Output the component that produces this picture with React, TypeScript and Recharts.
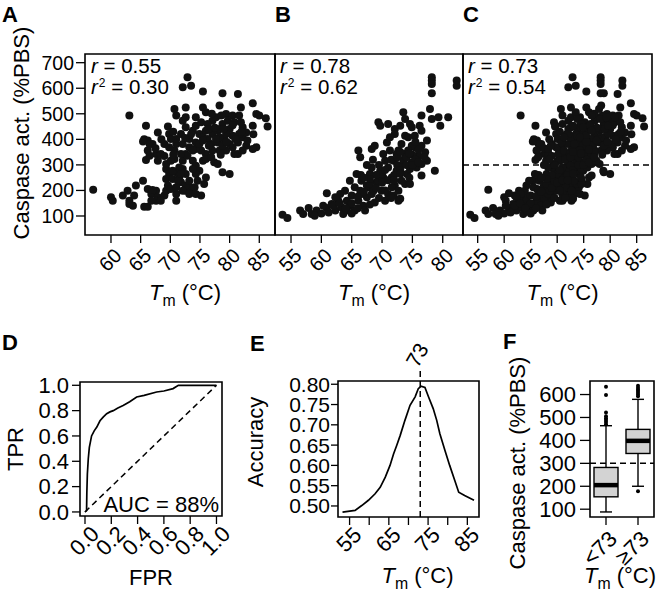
import React from 'react';
import { ScatterChart, Scatter, LineChart, Line, ComposedChart, Bar, XAxis, YAxis, ReferenceArea, ReferenceLine } from 'recharts';

const FONT = "'Liberation Sans', Arial, Helvetica, sans-serif";

// Panel A: Tm vs caspase activity (set 1)
const scatterA: [number, number][] = [
  [57.0, 203], [60.0, 173], [60.3, 160], [62.0, 180], [62.8, 199], [63.1, 147], [64.2, 219], [63.9, 180],
  [65.4, 238], [66.2, 206], [65.6, 136], [66.2, 136], [66.8, 186], [67.6, 199], [67.9, 173], [69.0, 180],
  [69.3, 199], [67.6, 160], [71.0, 160], [71.0, 186], [72.6, 199], [73.2, 212], [73.8, 193], [75.2, 180],
  [75.7, 225], [76.0, 251], [63.1, 493], [65.9, 453], [67.9, 427], [69.6, 450], [65.6, 400], [66.2, 395],
  [67.0, 382], [66.2, 356], [65.9, 319], [67.6, 343], [67.9, 316], [69.0, 382], [69.8, 421], [70.1, 401],
  [70.7, 356], [71.0, 382], [69.3, 284], [69.8, 264], [69.3, 245], [70.4, 245], [71.0, 271], [71.5, 251],
  [72.1, 284], [72.6, 264], [71.8, 232], [72.6, 219], [70.7, 323], [72.1, 316], [72.6, 343], [73.8, 316],
  [74.3, 297], [74.9, 277], [74.6, 238], [73.2, 238], [74.1, 212], [72.1, 473], [72.6, 486], [71.0, 493],
  [72.6, 525], [70.7, 519], [72.9, 643], [72.1, 604], [73.5, 610], [75.5, 587], [78.8, 580], [81.4, 577],
  [75.5, 525], [78.3, 532], [81.9, 525], [83.9, 541], [84.5, 499], [85.0, 493], [86.1, 483], [86.4, 450],
  [84.5, 369], [83.9, 362], [76.0, 506], [74.3, 486], [77.1, 473], [79.4, 499], [80.5, 493], [81.6, 493],
  [78.8, 460], [80.0, 440], [82.2, 447], [83.9, 453], [73.8, 434], [74.9, 421], [76.0, 434], [77.1, 421],
  [78.0, 434], [73.2, 401], [74.3, 388], [75.5, 408], [76.9, 382], [78.0, 388], [79.1, 401], [80.5, 414],
  [81.4, 388], [82.2, 408], [82.8, 375], [80.5, 369], [79.4, 356], [81.4, 343], [78.3, 356], [77.1, 356],
  [76.0, 343], [75.2, 356], [74.3, 362], [73.2, 369], [72.1, 382], [71.0, 401], [71.8, 421], [72.6, 447],
  [78.3, 440], [77.4, 310], [78.0, 303], [78.8, 271], [80.0, 264], [74.3, 264], [75.5, 316], [76.0, 323],
  [69.3, 303], [68.4, 343], [66.5, 336], [66.5, 382], [65.4, 392], [69.6, 219], [70.1, 206], [71.0, 212],
  [71.3, 238], [66.8, 160], [68.4, 160], [67.0, 202], [63.1, 160], [63.7, 140], [74.3, 453], [75.2, 467],
  [76.3, 460], [77.7, 486], [78.6, 493], [79.7, 473], [80.8, 467], [81.9, 467], [82.8, 427], [81.6, 421],
  [79.4, 421], [78.3, 408], [76.3, 401], [74.9, 382], [73.8, 356], [72.9, 336], [71.8, 343], [69.8, 369],
  [80.0, 382], [78.8, 375], [77.7, 401], [82.2, 356], [80.8, 343], [76.9, 330], [70.4, 277], [71.5, 290],
  [70.1, 316], [72.1, 199], [73.2, 186], [74.3, 186], [71.8, 264], [73.8, 284], [76.5, 440], [77.5, 445],
  [79.0, 440], [80.5, 455], [82.0, 430], [83.0, 395], [79.5, 390], [76.5, 375], [75.5, 395], [73.5, 420],
  [72.5, 405], [70.5, 430], [68.5, 400], [67.5, 365], [69.0, 335], [70.5, 340], [78.5, 340], [81.0, 400],
  [84.0, 420], [77.0, 500],
];

// Panel B: Tm vs caspase activity (set 2)
const scatterB: [number, number][] = [
  [53.6, 105], [54.4, 92], [56.5, 121], [57.0, 108], [57.9, 131], [58.4, 108], [59.2, 121], [60.0, 110],
  [60.9, 131], [60.9, 189], [61.7, 147], [62.3, 121], [62.8, 160], [63.3, 134], [63.6, 108], [63.9, 199],
  [64.2, 160], [64.7, 140], [65.0, 180], [65.5, 212], [65.8, 264], [66.1, 160], [66.4, 199], [66.6, 238],
  [66.9, 140], [67.5, 173], [67.7, 212], [68.0, 264], [68.3, 290], [68.3, 186], [68.8, 153], [69.1, 232],
  [66.1, 356], [66.4, 330], [68.3, 362], [69.7, 277], [69.9, 199], [70.5, 160], [70.2, 343], [70.5, 316],
  [70.8, 388], [71.3, 356], [71.0, 290], [71.6, 251], [72.1, 219], [71.9, 180], [72.7, 160], [72.4, 277],
  [72.7, 356], [73.2, 382], [73.8, 343], [73.5, 303], [74.1, 264], [73.8, 225], [73.0, 167], [74.6, 284],
  [74.6, 225], [74.9, 310], [75.4, 369], [75.7, 290], [76.0, 336], [76.5, 375], [76.5, 258], [77.1, 349],
  [77.4, 316], [78.7, 277], [69.4, 467], [69.7, 453], [71.0, 460], [72.1, 440], [72.1, 421], [73.0, 453],
  [73.5, 506], [73.8, 480], [74.6, 460], [74.9, 447], [75.4, 414], [76.2, 453], [76.5, 434], [73.8, 414],
  [76.5, 493], [77.9, 519], [78.2, 480], [79.3, 486], [79.6, 453], [80.9, 486], [78.2, 643], [78.2, 630],
  [78.2, 617], [78.2, 580], [82.3, 630], [82.3, 610], [68.8, 375], [70.2, 251], [64.7, 238], [63.1, 186],
  [62.3, 173], [64.2, 121], [61.2, 114], [58.9, 101], [60.3, 140], [67.2, 121], [65.5, 121], [67.5, 219],
  [69.4, 238], [68.6, 199], [71.6, 212], [71.0, 186], [66.6, 186], [72.7, 199], [73.2, 238], [71.9, 316],
  [71.3, 408], [74.9, 375], [74.3, 356], [72.4, 343], [76.5, 303], [77.4, 395], [74.3, 408], [65.0, 150],
  [66.0, 175], [67.0, 195], [68.0, 225], [69.0, 210], [70.0, 230], [70.0, 265], [71.0, 240], [72.0, 260],
  [72.5, 300], [73.5, 320], [74.0, 330], [75.0, 340], [75.5, 320], [76.0, 360], [69.5, 300], [68.5, 320],
  [67.5, 300], [66.5, 260], [70.5, 200], [71.5, 170], [73.0, 280], [74.5, 250], [62.0, 140], [63.0, 150],
  [64.0, 130], [65.0, 110], [66.0, 130], [68.0, 145], [69.5, 170], [71.5, 320], [72.5, 330], [73.0, 350],
  [74.0, 300], [75.0, 300], [73.0, 265], [72.0, 240], [70.5, 280], [69.0, 260], [68.0, 245], [67.0, 250],
  [76.0, 310], [77.0, 330], [74.5, 345], [75.5, 390],
];

// Panel C: both sets pooled
const scatterC: [number, number][] = [...scatterA, ...scatterB];

const topYTicks = [100, 200, 300, 400, 500, 600, 700];
const ticksA = [60, 65, 70, 75, 80, 85];
const ticksB = [55, 60, 65, 70, 75, 80];
const ticksC = [55, 60, 65, 70, 75, 80, 85];
const caspaseCutoff = 300;

// Panel D: ROC curve
const rocFpr = [0, 0.012, 0.014, 0.018, 0.025, 0.033, 0.05, 0.07, 0.09, 0.114, 0.14, 0.165, 0.19, 0.215, 0.25, 0.29, 0.34, 0.393, 0.45, 0.545, 0.6, 0.67, 0.71, 0.8, 0.9, 1.0];
const rocTpr = [0, 0.01, 0.15, 0.3, 0.42, 0.51, 0.6, 0.64, 0.67, 0.72, 0.75, 0.776, 0.79, 0.8, 0.82, 0.84, 0.87, 0.908, 0.92, 0.947, 0.955, 0.974, 1.0, 1.0, 1.0, 1.0];
const rateTicks = [0, 0.2, 0.4, 0.6, 0.8, 1.0];

// Panel E: accuracy vs Tm threshold
const thrTm = [53.2, 56.4, 58.1, 59.8, 61.5, 62.8, 64.1, 65.3, 66.2, 67.0, 67.9, 69.1, 70.4, 71.7, 72.5, 73.2, 74.2, 75.1, 76.3, 77.2, 78.0, 79.3, 80.5, 81.8, 82.8, 84.3, 86.7];
const thrAcc = [0.485, 0.489, 0.501, 0.514, 0.53, 0.546, 0.571, 0.6, 0.628, 0.649, 0.674, 0.711, 0.748, 0.769, 0.789, 0.795, 0.792, 0.769, 0.74, 0.711, 0.678, 0.637, 0.6, 0.563, 0.534, 0.526, 0.514];
const accTicks = [0.5, 0.55, 0.6, 0.65, 0.7, 0.75, 0.8];
const thrXTicks = [55, 60, 65, 70, 75, 80, 85];
const bestTm = 73;

// Panel F: boxplots by Tm group
const groups = ['<73', '≥73'];
const whiskLo = [88, 200];
const q1 = [154, 343];
const med = [205, 398];
const q3 = [282, 448];
const whiskHi = [464, 579];
const outliers = [
  [470, 480, 489, 497, 505, 522, 598, 634],
  [592, 600, 608, 615, 622, 630, 638, 178],
];
const boxYTicks = [100, 200, 300, 400, 500, 600];

const toPts = (arr: [number, number][]) => arr.map(([tm, casp]) => ({ tm, casp }));
const rocData = rocFpr.map((f, i) => ({ fpr: f, tpr: rocTpr[i] }));
const accData = thrTm.map((t, i) => ({ tm: t, acc: thrAcc[i] }));
const boxData = groups.map((g, i) => ({
  grp: g, range: [whiskLo[i], whiskHi[i]], q1: q1[i], med: med[i], q3: q3[i], out: outliers[i],
}));

const TOP_Y: [number, number] = [25.6, 734];

const rotTick = (fs: number, dx: number, dy: number, fmt: (v: any) => string) => (props: any) => {
  const { x, y, payload } = props;
  const s = fmt(payload.value);
  if (!s) return <g />;
  return (
    <text transform={`translate(${x + dx},${y + dy}) rotate(-45)`} textAnchor="end" dominantBaseline="central" fontSize={fs} fill="#000">
      {s}
    </text>
  );
};

const tmTitle = (dx: number, dy: number, fs = 22) => (props: any) => {
  const vb = props.viewBox;
  return (
    <text x={vb.x + vb.width / 2 + dx} y={vb.y + dy} textAnchor="middle" fontSize={fs} fill="#000">
      <tspan fontStyle="italic">T</tspan>
      <tspan fontSize={fs * 0.72} dy={6}>m</tspan>
      <tspan dy={-6}> (°C)</tspan>
    </text>
  );
};

const vTitle = (text: string, cx: number, cy: number, fs = 21) => () => (
  <text transform={`translate(${cx},${cy}) rotate(-90)`} textAnchor="middle" dominantBaseline="central" fontSize={fs} fill="#000">
    {text}
  </text>
);

const dot = (p: any) => <circle cx={p.cx} cy={p.cy} r={4} fill="#111" />;

const tl = { stroke: '#000', strokeWidth: 1.3 };

// pad = extra room on the left of the svg so rotated tick labels are not clipped
function TmScatter({ data, ticks, domain, left, width, showY, cutoff, pad = 0 }: any) {
  return (
    <div style={{ position: 'absolute', left: left - pad, top: 0 }}>
      <ScatterChart width={width + pad} height={320} margin={{ top: 54, right: 1, bottom: 0, left: pad }}>
        <XAxis type="number" dataKey="tm" domain={domain} ticks={ticks} interval={0} allowDataOverflow
          axisLine={false} stroke="#000" tickLine={tl} tickSize={8} tickMargin={0} height={85}
          tick={rotTick(20, 7, 9, (v) => String(v))} label={tmTitle(5, 65)} />
        <YAxis type="number" dataKey="casp" domain={TOP_Y} ticks={topYTicks} interval={0} allowDataOverflow
          hide={!showY} width={85} axisLine={false} stroke="#000" tickLine={tl} tickSize={9} tickMargin={2}
          tick={{ fill: '#000', fontSize: 19.5 }} label={vTitle('Caspase act. (%PBS)', 21, 133, 22)} />
        <ReferenceArea x1={domain[0]} x2={domain[1]} y1={TOP_Y[0]} y2={TOP_Y[1]} fill="none" fillOpacity={0} stroke="#000" strokeWidth={1.6} />
        {cutoff && <ReferenceLine y={caspaseCutoff} stroke="#000" strokeWidth={1.5} strokeDasharray="6 4" />}
        <Scatter data={toPts(data)} isAnimationActive={false} shape={dot} />
      </ScatterChart>
    </div>
  );
}

const BoxShape = (props: any) => {
  const { x, y, width, height, payload } = props;
  const [lo, hi] = payload.range;
  const top = Math.min(y, y + height);
  const span = Math.abs(height);
  const py = (v: number) => top + ((hi - v) / (hi - lo)) * span;
  const cx = x + width / 2;
  return (
    <g>
      <line x1={cx} x2={cx} y1={py(hi)} y2={py(payload.q3)} stroke="#000" strokeWidth={1.4} />
      <line x1={cx} x2={cx} y1={py(payload.q1)} y2={py(lo)} stroke="#000" strokeWidth={1.4} />
      <line x1={cx - 6} x2={cx + 6} y1={py(hi)} y2={py(hi)} stroke="#000" strokeWidth={1.4} />
      <line x1={cx - 6} x2={cx + 6} y1={py(lo)} y2={py(lo)} stroke="#000" strokeWidth={1.4} />
      <rect x={x} y={py(payload.q3)} width={width} height={py(payload.q1) - py(payload.q3)} fill="#d3d3d3" stroke="#000" strokeWidth={1.4} />
      <line x1={x} x2={x + width} y1={py(payload.med)} y2={py(payload.med)} stroke="#000" strokeWidth={4.5} />
      {payload.out.map((v: number, i: number) => (
        <circle key={i} cx={cx} cy={py(v)} r={2} fill="#000" />
      ))}
    </g>
  );
};

export default function App() {
  return (
    <div style={{ position: 'fixed', left: 0, top: 0, width: 660, height: 602, background: '#fff', fontFamily: FONT, color: '#000' }}>
      <TmScatter data={scatterA} ticks={ticksA} domain={[55.62, 87.65]} left={0} width={276} showY />
      <TmScatter data={scatterB} ticks={ticksB} domain={[52.36, 83.34]} left={275} width={189} pad={10} />
      <TmScatter data={scatterC} ticks={ticksC} domain={[52.23, 87.89]} left={463} width={190} pad={10} cutoff />

      {/* D: ROC */}
      <div style={{ position: 'absolute', left: 0, top: 330 }}>
        <LineChart width={242} height={272} data={rocData} margin={{ top: 52, right: 20, bottom: 0, left: 0 }}>
          <XAxis type="number" dataKey="fpr" domain={[-0.038, 1.042]} ticks={rateTicks} interval={0} allowDataOverflow
            axisLine={false} stroke="#000" tickLine={tl} tickSize={8} tickMargin={0} height={86}
            tick={rotTick(22, 10, 6, (v) => Number(v).toFixed(1))}
            label={(p: any) => <text x={p.viewBox.x + p.viewBox.width / 2} y={p.viewBox.y + 69} textAnchor="middle" fontSize={22} fill="#000">FPR</text>} />
          <YAxis type="number" domain={[-0.032, 1.026]} ticks={rateTicks} interval={0} allowDataOverflow width={80}
            axisLine={false} stroke="#000" tickLine={tl} tickSize={8} tickMargin={3}
            tick={{ fill: '#000', fontSize: 22 }} tickFormatter={(v) => Number(v).toFixed(1)}
            label={vTitle('TPR', 15, 119, 22)} />
          <ReferenceArea x1={-0.038} x2={1.042} y1={-0.032} y2={1.026} fill="none" fillOpacity={0} stroke="#000" strokeWidth={1.6} />
          <ReferenceLine segment={[{ x: 0, y: 0 }, { x: 1, y: 1 }]} stroke="#000" strokeWidth={1.5} strokeDasharray="6 4" />
          <Line type="linear" dataKey="tpr" stroke="#000" strokeWidth={1.7} dot={false} isAnimationActive={false} />
        </LineChart>
      </div>

      {/* E: accuracy */}
      <div style={{ position: 'absolute', left: 240, top: 330 }}>
        <LineChart width={252} height={272} data={accData} margin={{ top: 51, right: 13, bottom: 0, left: 0 }}>
          <XAxis type="number" dataKey="tm" domain={[52.05, 87.97]} ticks={thrXTicks} interval={0} allowDataOverflow
            axisLine={false} stroke="#000" tickLine={tl} tickSize={8} tickMargin={0} height={85}
            tick={rotTick(22, 8, 6, (v) => (Number(v) % 10 === 5 ? String(v) : ''))} label={tmTitle(9, 66)} />
          <YAxis type="number" domain={[0.4728, 0.808]} ticks={accTicks} interval={0} allowDataOverflow width={98}
            axisLine={false} stroke="#000" tickLine={tl} tickSize={7} tickMargin={1}
            tick={{ fill: '#000', fontSize: 21 }} tickFormatter={(v) => Number(v).toFixed(2)}
            label={vTitle('Accuracy', 15, 112, 22)} />
          <ReferenceArea x1={52.05} x2={87.97} y1={0.4728} y2={0.808} fill="none" fillOpacity={0} stroke="#000" strokeWidth={1.6} />
          <ReferenceLine segment={[{ x: bestTm, y: 0.4728 }, { x: bestTm, y: 0.835 }]} ifOverflow="visible" stroke="#000" strokeWidth={1.5} strokeDasharray="6 4" />
          <Line type="linear" dataKey="acc" stroke="#000" strokeWidth={1.7} dot={false} isAnimationActive={false} />
        </LineChart>
      </div>

      {/* F: boxplots */}
      <div style={{ position: 'absolute', left: 495, top: 330 }}>
        <ComposedChart width={163} height={272} data={boxData} margin={{ top: 51, right: 4, bottom: 0, left: 0 }} barSize={24}>
          <XAxis type="category" dataKey="grp" interval={0} axisLine={false} stroke="#000" tickLine={tl} tickSize={8} tickMargin={0} height={85}
            tick={rotTick(22, 7, 10, (v) => String(v))} label={tmTitle(-2, 66)} />
          <YAxis type="number" domain={[66, 659]} ticks={boxYTicks} interval={0} allowDataOverflow width={95}
            axisLine={false} stroke="#000" tickLine={tl} tickSize={10} tickMargin={4}
            tick={{ fill: '#000', fontSize: 22 }} label={vTitle('Caspase act. (%PBS)', 22, 133, 22)} />
          <ReferenceArea y1={66} y2={659} fill="none" fillOpacity={0} stroke="#000" strokeWidth={1.6} />
          <ReferenceLine y={caspaseCutoff} stroke="#000" strokeWidth={1.5} strokeDasharray="6 4" />
          <Bar dataKey="range" shape={BoxShape} isAnimationActive={false} />
        </ComposedChart>
      </div>

      <svg width={660} height={602} style={{ position: 'absolute', left: 0, top: 0, pointerEvents: 'none' }}>
        <g fontWeight="bold" fontSize={22} fill="#000">
          <text x={2} y={22}>A</text>
          <text x={275} y={22}>B</text>
          <text x={463} y={22}>C</text>
          <text x={2} y={350}>D</text>
          <text x={250} y={351}>E</text>
          <text x={503} y={349}>F</text>
        </g>
        <g fontSize={20.5} fill="#000">
          {[[91, '0.55', '0.30'], [280, '0.78', '0.62'], [468, '0.73', '0.54']].map(([x, r, r2]) => (
            <g key={String(x)}>
              <text x={Number(x)} y={73}><tspan fontStyle="italic">r</tspan> = {r}</text>
              <text x={Number(x)} y={94}>
                <tspan fontStyle="italic">r</tspan>
                <tspan fontSize={12} dx={1} dy={-7}>2</tspan>
                <tspan dy={7}> = {r2}</tspan>
              </text>
            </g>
          ))}
          <text x={219} y={512} textAnchor="end" fontSize={22}>AUC = 88%</text>
          <text transform="translate(417,355) rotate(-60)" textAnchor="middle" dominantBaseline="central" fontSize={21}>{bestTm}</text>
        </g>
      </svg>
    </div>
  );
}
